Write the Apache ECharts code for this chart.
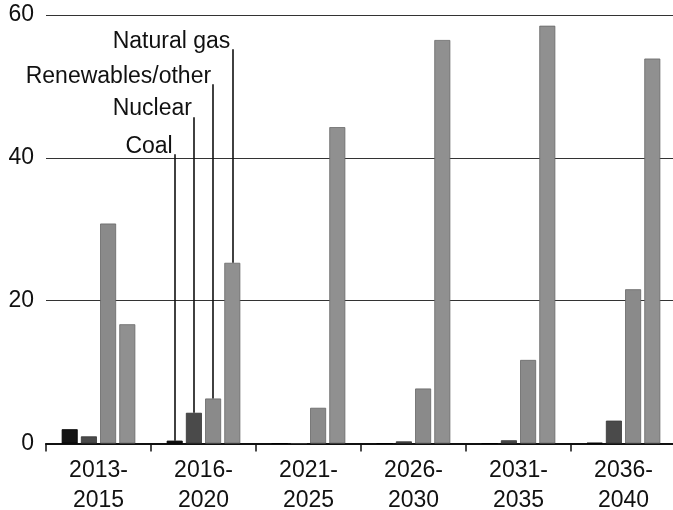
<!DOCTYPE html>
<html>
<head>
<meta charset="utf-8">
<title>Capacity additions by fuel</title>
<script src="https://cdn.jsdelivr.net/npm/echarts@6/dist/echarts.min.js"></script>
<style>
  html, body { margin: 0; padding: 0; background: #fff; }
  #chart { width: 673px; height: 510px; }
</style>
</head>
<body>
<div id="chart"></div>
<script>
// Periods on the horizontal axis
const periods = ['2013-\n2015', '2016-\n2020', '2021-\n2025', '2026-\n2030', '2031-\n2035', '2036-\n2040'];

// Values per fuel, one per period
const coal       = [2.0, 0.4, 0, 0, 0, 0.1];
const nuclear    = [1.0, 4.3, 0, 0.3, 0.45, 3.2];
const renewables = [30.8, 6.3, 5.0, 7.7, 11.7, 21.6];
const naturalGas = [16.7, 25.3, 44.3, 56.5, 58.5, 53.9];

const seriesNames = ['Coal', 'Nuclear', 'Renewables/other', 'Natural gas'];
const yTicks = [0, 20, 40, 60];

const FONT = '"Liberation Sans", Arial, Helvetica, sans-serif';

// Callout leaders rise from the 2016-2020 bars to the fuel names
const calloutPeriod = 1;
const callouts = [
  { top: 40.5, offsetY: -8 },
  { top: 45.7, offsetY: -8 },
  { top: 50.3, offsetY: -8 },
  { top: 55.2, offsetY: -8 }
];

const fills = ['#141414', '#4a4a4a', '#8a8a8a', '#909090'];
const borders = ['#000000', '#333333', '#666666', '#686868'];

const values = [coal, nuclear, renewables, naturalGas];

const series = values.map((vals, i) => {
  const c = callouts[i];
  return {
    name: seriesNames[i],
    type: 'bar',
    data: vals,
    barWidth: 16,
    barGap: '20%',
    itemStyle: { color: fills[i], borderColor: borders[i], borderWidth: 0.8 },
    markLine: {
      silent: true,
      symbol: ['none', 'none'],
      label: { show: false },
      lineStyle: { color: '#111', width: 1.6, type: 'solid' },
      data: [[
        { coord: [calloutPeriod, vals[calloutPeriod]] },
        { coord: [calloutPeriod, c.top] }
      ]],
      animation: false
    },
    markPoint: {
      silent: true,
      symbol: 'circle',
      symbolSize: 0,
      itemStyle: { color: 'transparent' },
      label: {
        show: true,
        position: 'left',
        distance: 2,
        offset: [0, c.offsetY],
        formatter: seriesNames[i],
        color: '#111',
        fontFamily: FONT,
        fontSize: 23
      },
      data: [{ coord: [calloutPeriod, c.top] }],
      animation: false
    }
  };
});

const chart = echarts.init(document.getElementById('chart'), null, { renderer: 'canvas' });
chart.setOption({
  animation: false,
  backgroundColor: '#fff',
  grid: { left: 46, top: 15, width: 630, height: 428.5, outerBoundsMode: 'none', containLabel: false },
  xAxis: {
    type: 'category',
    data: periods,
    axisLine: { show: true, lineStyle: { color: '#111', width: 2 } },
    axisTick: { show: true, length: 8, lineStyle: { color: '#111', width: 1.5 } },
    axisLabel: {
      color: '#111',
      fontFamily: FONT,
      fontSize: 23,
      lineHeight: 30,
      margin: 12
    },
    splitLine: { show: false }
  },
  yAxis: {
    type: 'value',
    min: yTicks[0],
    max: yTicks[yTicks.length - 1],
    interval: yTicks[1] - yTicks[0],
    axisLine: { show: false },
    axisTick: { show: false },
    axisLabel: { color: '#111', fontFamily: FONT, fontSize: 23, margin: 12 },
    splitLine: { show: true, lineStyle: { color: '#333', width: 1 } }
  },
  series: series
});
</script>
</body>
</html>
